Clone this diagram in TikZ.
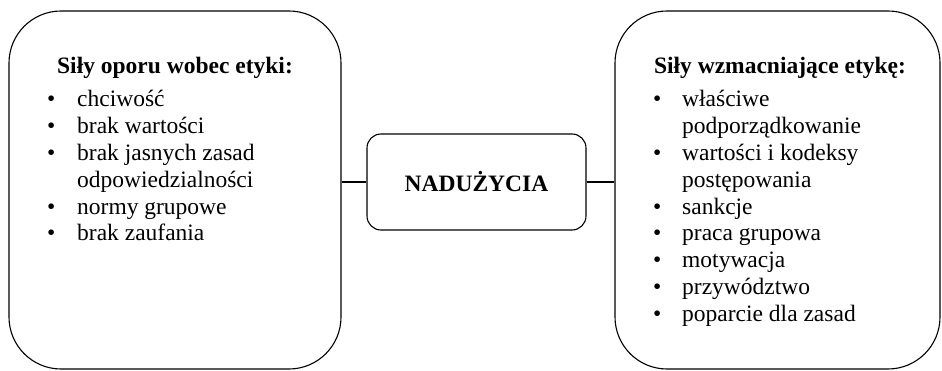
\documentclass[tikz,border=0pt]{standalone}
\usepackage{fontspec}
\setmainfont{Liberation Serif}
\usetikzlibrary{positioning}

\newcommand{\txtsize}{\fontsize{23.5}{26.8}\selectfont}

\tikzset{
  bigbox/.style={draw, line width=1.1pt, rounded corners=52pt, minimum height=358pt},
  midbox/.style={draw, line width=1.1pt, rounded corners=14pt, minimum width=219pt, minimum height=96pt, font=\txtsize\bfseries},
  head/.style={font=\txtsize\bfseries, anchor=base, inner sep=0pt},
  items/.style={font=\txtsize, anchor=base west, inner sep=0pt}
}

\begin{document}
\begin{tikzpicture}[x=1pt, y=-1pt]
			\useasboundingbox (0,0) rectangle (942,371);
			
			% boxes
			\node[bigbox, minimum width=332pt] (lbox) at (175,190) {};
			\node[bigbox, minimum width=325pt] (rbox) at (777.5,190) {};
			\node[midbox] (nad) at (476.5,182) {NADUŻYCIA};
			
			% titles
			\node[head] (lhead) at (lbox.center |- 0,74) {Siły oporu wobec etyki:};
			\node[head] (rhead) at (780,74) {Siły wzmacniające etykę:};
			
			% lists
			\node[items] (llist) at (47,107) {\begin{tabular}[t]{@{}p{30pt}@{}l@{}}
				\textbullet & chciwość\\
				\textbullet & brak wartości\\
				\textbullet & brak jasnych zasad\\
				            & odpowiedzialności\\
				\textbullet & normy grupowe\\
				\textbullet & brak zaufania
			\end{tabular}};
			\node[items] (rlist) at (653,107) {\begin{tabular}[t]{@{}p{29pt}@{}l@{}}
				\textbullet & właściwe\\
				            & podporządkowanie\\
				\textbullet & wartości i kodeksy\\
				            & postępowania\\
				\textbullet & sankcje\\
				\textbullet & praca grupowa\\
				\textbullet & motywacja\\
				\textbullet & przywództwo\\
				\textbullet & poparcie dla zasad
			\end{tabular}};
			
			% connectors
			\draw[line width=1.1pt] (nad.west) -- (nad.west -| lbox.east);
			\draw[line width=1.1pt] (nad.east) -- (nad.east -| rbox.west);
\end{tikzpicture}
\end{document}
